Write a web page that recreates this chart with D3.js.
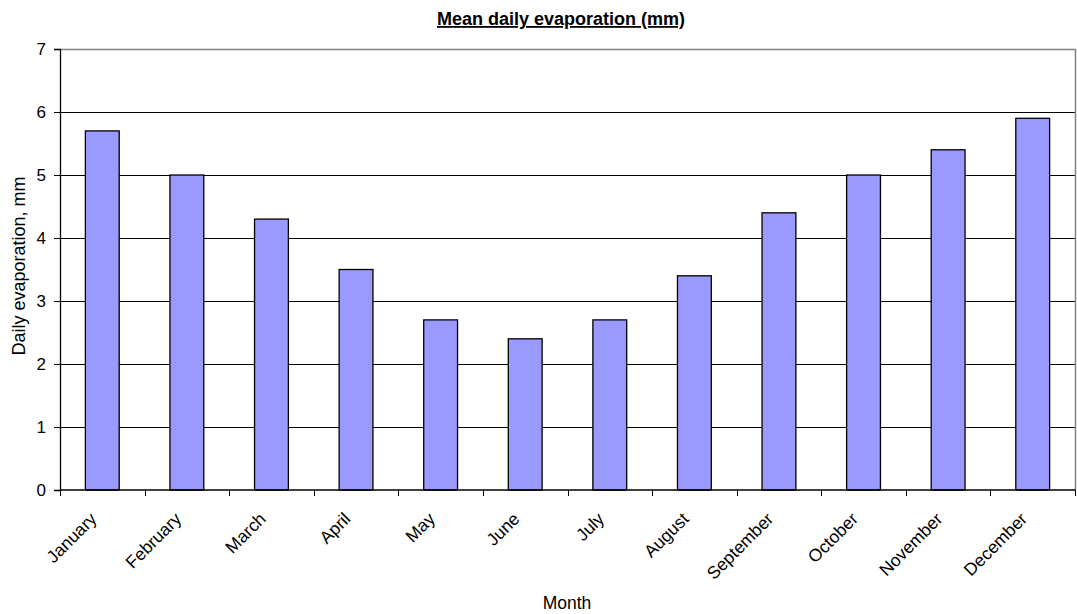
<!DOCTYPE html>
<html>
<head>
<meta charset="utf-8">
<script src="https://cdn.jsdelivr.net/npm/d3@7"></script>
<style>
  html, body { margin: 0; padding: 0; background: #fff; }
  svg { display: block; font-family: "Liberation Sans", Arial, sans-serif; }
</style>
</head>
<body>
<svg id="chart" width="1077" height="614"></svg>
<script>
// Monthly mean daily evaporation
const months = ["January", "February", "March", "April", "May", "June",
                "July", "August", "September", "October", "November", "December"];
const evaporation = [5.7, 5.0, 4.3, 3.5, 2.7, 2.4, 2.7, 3.4, 4.4, 5.0, 5.4, 5.9];
const yTicks = [0, 1, 2, 3, 4, 5, 6, 7];

const svg = d3.select("#chart");
const plot = { left: 60, right: 1075, top: 49, bottom: 490 };

const x = d3.scaleBand().domain(months).range([plot.left, plot.right]).paddingInner(0.6).paddingOuter(0.3);
const xEdges = d3.scaleLinear().domain([0, months.length]).range([plot.left, plot.right]);
const y = d3.scaleLinear().domain([0, 7]).range([plot.bottom, plot.top]);

// Horizontal gridlines
svg.append("g").selectAll("line").data(yTicks.filter(d => d > 0 && d < 7)).join("line")
  .attr("x1", plot.left).attr("x2", plot.right)
  .attr("y1", d => y(d) + 0.5).attr("y2", d => y(d) + 0.5)
  .attr("stroke", "#000").attr("stroke-width", 1);

// Plot-area border (top and right)
svg.append("path")
  .attr("d", `M${plot.left},${plot.top + 0.5}H${plot.right + 0.5}V${plot.bottom}`)
  .attr("fill", "none").attr("stroke", "#808080").attr("stroke-width", 1.5);

// Bars
svg.append("g").selectAll("rect").data(evaporation).join("rect")
  .attr("x", (d, i) => x(months[i]))
  .attr("width", x.bandwidth())
  .attr("y", d => y(d))
  .attr("height", d => y(0) - y(d))
  .attr("fill", "#9999ff")
  .attr("stroke", "#000")
  .attr("stroke-width", 1.3);

// Y axis
const yAxis = d3.axisLeft(y).tickValues(yTicks).tickSize(6).tickPadding(8).tickFormat(d3.format("d"));
const gy = svg.append("g").attr("transform", `translate(${plot.left},0)`).call(yAxis);
gy.select(".domain").attr("stroke", "#000").attr("stroke-width", 1.3);
gy.selectAll(".tick line").attr("stroke", "#000");
gy.selectAll(".tick text").attr("font-size", 17).attr("fill", "#000")
  .style("font-family", "'Liberation Sans', Arial, sans-serif");

// X axis baseline and boundary ticks
svg.append("line")
  .attr("x1", plot.left).attr("x2", plot.right + 0.5)
  .attr("y1", plot.bottom).attr("y2", plot.bottom)
  .attr("stroke", "#000").attr("stroke-width", 1.3);
svg.append("g").selectAll("line").data(d3.range(months.length + 1)).join("line")
  .attr("x1", i => Math.round(xEdges(i)) + 0.5).attr("x2", i => Math.round(xEdges(i)) + 0.5)
  .attr("y1", plot.bottom).attr("y2", plot.bottom + 6)
  .attr("stroke", "#000").attr("stroke-width", 1);

// Rotated month labels
svg.append("g").selectAll("text").data(months).join("text")
  .attr("transform", d => `translate(${x(d) + x.bandwidth() / 2 - 4.5},${plot.bottom + 30}) rotate(-45)`)
  .attr("text-anchor", "end")
  .attr("font-size", 17.5)
  .text(d => d);

// Title
svg.append("text")
  .attr("x", 561).attr("y", 25)
  .attr("text-anchor", "middle")
  .attr("font-size", 18).attr("font-weight", "bold")
  .attr("text-decoration", "underline")
  .text("Mean daily evaporation (mm)");

// Axis titles
svg.append("text")
  .attr("transform", `translate(25,266) rotate(-90)`)
  .attr("text-anchor", "middle")
  .attr("font-size", 18)
  .text("Daily evaporation, mm");

svg.append("text")
  .attr("x", 567).attr("y", 609)
  .attr("text-anchor", "middle")
  .attr("font-size", 17.5)
  .text("Month");
</script>
</body>
</html>
